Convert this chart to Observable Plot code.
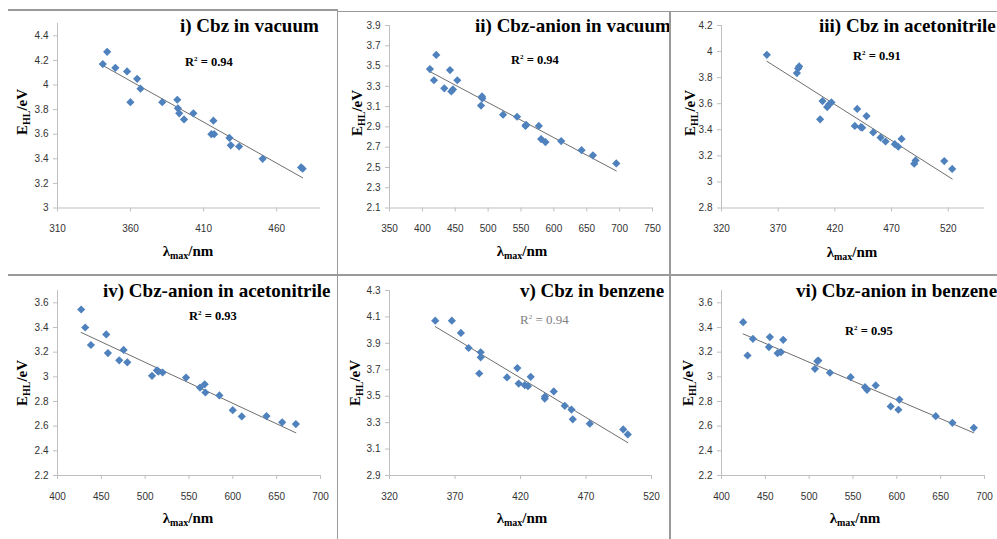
<!DOCTYPE html>
<html><head><meta charset="utf-8">
<script src="https://cdn.jsdelivr.net/npm/d3@7"></script>
<script src="https://cdn.jsdelivr.net/npm/@observablehq/plot@0.6"></script>
<style>
body{margin:0;background:#fff;}
#fig{position:relative;width:997px;height:539px;overflow:hidden;font-family:"Liberation Serif","Times New Roman",serif;color:#000;}
.panel{position:absolute;}
.title{position:absolute;font-weight:bold;font-size:19px;white-space:nowrap;line-height:1;}
.r2{position:absolute;font-weight:bold;font-size:12.5px;white-space:nowrap;line-height:1;}
.r2.light{font-weight:normal;color:#7f7f7f;font-size:13px;}
.xl,.yl{position:absolute;font-weight:bold;font-size:15px;white-space:nowrap;line-height:1;}
.yl{transform:translate(-50%,-50%) rotate(-90deg);}
.xl{transform:translate(-50%,-50%);}
.sep{position:absolute;background:#9a9a9a;}
.xl sub,.yl sub{font-size:10px;vertical-align:-3px;}
.r2 sup{font-size:7px;vertical-align:5px;}
</style>
</head><body>
<div id="fig"></div>
<script>
// ---------- data ----------
const titles = ["i) Cbz in vacuum", "ii) Cbz-anion in vacuum", "iii) Cbz in acetonitrile",
                "iv) Cbz-anion in acetonitrile", "v) Cbz in benzene", "vi) Cbz-anion in benzene"];
const r2Values = ["0.94", "0.94", "0.91", "0.93", "0.94", "0.95"];

const p1X = [341,344,349.6,357.6,359.9,364.5,366.8,381.7,392,392.4,393.3,396.6,403,415.3,416.7,417.2,427.7,428.6,434.3,450.4,476.7,477.8];
const p1Y = [4.17,4.27,4.14,4.11,3.86,4.05,3.97,3.86,3.88,3.81,3.77,3.72,3.77,3.60,3.71,3.60,3.57,3.51,3.50,3.40,3.33,3.32];

const p2X = [411.5,417.6,421.1,433.3,442,444,446.5,453.1,489.2,490.7,491.2,522.7,544,556.8,557.8,577.1,580.6,587.2,611.1,642.1,659.4,694.9];
const p2Y = [3.47,3.36,3.61,3.28,3.46,3.25,3.27,3.36,3.11,3.20,3.18,3.02,3.00,2.91,2.92,2.91,2.78,2.75,2.76,2.67,2.62,2.54];

const p3X = [360,386.5,387.6,388.5,407,409.1,413.2,415,417,437.6,439.7,442.9,444.1,447.9,453.8,460.3,464.7,472.9,475.9,478.8,490,491.2,516.5,523.5];
const p3Y = [3.975,3.835,3.87,3.886,3.48,3.62,3.574,3.595,3.61,3.43,3.56,3.42,3.416,3.505,3.38,3.34,3.31,3.29,3.27,3.33,3.14,3.165,3.16,3.10];

const p4X = [427,431.6,438.1,455.6,457.5,470.4,475.4,479.6,507.8,513.5,515,519.9,546.6,562.6,567.9,568.7,584.7,599.9,610.2,638.4,656.3,671.9];
const p4Y = [3.546,3.40,3.258,3.344,3.193,3.134,3.218,3.118,3.008,3.053,3.043,3.035,2.994,2.913,2.94,2.873,2.849,2.73,2.679,2.682,2.631,2.617];

const p5X = [354.9,367.6,374.5,380.4,388.5,389.6,389.6,409.7,417.6,418.6,423.2,425.7,427.8,438.5,438.7,445.4,453.8,458.9,459.9,472.9,498.4,501.9];
const p5Y = [4.072,4.072,3.979,3.865,3.672,3.832,3.794,3.642,3.713,3.596,3.584,3.576,3.647,3.482,3.497,3.536,3.427,3.399,3.325,3.292,3.249,3.211];

const p6X = [424.7,429.7,435.8,454.1,455.2,464,467.8,470.4,506.6,509.3,510.4,523.7,547.3,563.7,566,575.9,593,601.8,602.9,644.4,663.4,687.8];
const p6Y = [3.443,3.173,3.308,3.241,3.322,3.192,3.2,3.3,3.065,3.127,3.132,3.033,2.997,2.916,2.895,2.93,2.76,2.733,2.816,2.681,2.627,2.587];

const xDomains = [[310,490],[350,750],[320,552],[400,700],[320,520],[400,700]];
const xTicks = [[310,360,410,460],[350,400,450,500,550,600,650,700,750],[320,370,420,470,520],
                [400,450,500,550,600,650,700],[320,370,420,470,520],[400,450,500,550,600,650,700]];
const yDomains = [[3,4.5],[2.1,3.9],[2.8,4.2],[2.2,3.7],[2.9,4.3],[2.2,3.7]];
const yTicks = [[3,3.2,3.4,3.6,3.8,4,4.2,4.4],[2.1,2.3,2.5,2.7,2.9,3.1,3.3,3.5,3.7,3.9],
                [2.8,3,3.2,3.4,3.6,3.8,4,4.2],[2.2,2.4,2.6,2.8,3,3.2,3.4,3.6],
                [2.9,3.1,3.3,3.5,3.7,3.9,4.1,4.3],[2.2,2.4,2.6,2.8,3,3.2,3.4,3.6]];
const seriesX = [p1X,p2X,p3X,p4X,p5X,p6X];
const seriesY = [p1Y,p2Y,p3Y,p4Y,p5Y,p6Y];

// ---------- layout ----------
const layout = [
  {left:0,   top:0,   width:335, height:270, ml:57, mr:15, mt:23, mb:62.5, tx:180, ty:16, rx:185, ry:56, ylx:23, yly:112, xlx:188, xly:252},
  {left:335, top:0,   width:335, height:270, ml:54, mr:18, mt:25, mb:62.5, tx:475, ty:16, rx:511, ry:54, ylx:358, yly:113, xlx:522, xly:252},
  {left:668, top:0,   width:329, height:270, ml:53, mr:13, mt:25, mb:62.5, tx:819, ty:16, rx:853, ry:50, ylx:691, yly:113, xlx:852, xly:253},
  {left:0,   top:270, width:335, height:269, ml:57, mr:15, mt:20, mb:64,   tx:103, ty:281, rx:189, ry:310, ylx:23, yly:383, xlx:188, xly:519},
  {left:335, top:270, width:335, height:269, ml:54, mr:19, mt:20, mb:64,   tx:520, ty:281, rx:520, ry:313, ylx:356, yly:383, xlx:522, xly:519},
  {left:668, top:270, width:329, height:269, ml:53, mr:13, mt:20, mb:64,   tx:796, ty:281, rx:845, ry:325, ylx:689, yly:383, xlx:855, xly:519}
];

const fig = document.getElementById("fig");
const fmt = d => String(d);

layout.forEach((L, i) => {
  const data = seriesX[i].map((x, j) => ({x, y: seriesY[i][j]}));
  const chart = Plot.plot({
    width: L.width, height: L.height,
    marginLeft: L.ml, marginRight: L.mr, marginTop: L.mt, marginBottom: L.mb,
    style: {fontFamily: "'Liberation Sans', Arial, sans-serif", fontSize: "10px", background: "transparent", overflow: "visible"},
    x: {domain: xDomains[i]},
    y: {domain: yDomains[i]},
    marks: [
      Plot.ruleY([yDomains[i][0]], {stroke: "#bfbfbf"}),
      Plot.ruleX([xDomains[i][0]], {stroke: "#bfbfbf"}),
      Plot.axisX(xTicks[i], {tickSize: 4, tickPadding: 13, stroke: "#bfbfbf", fill: "#333", label: null, tickFormat: fmt}),
      Plot.axisY(yTicks[i], {tickSize: 4, tickPadding: 5, stroke: "#bfbfbf", fill: "#333", label: null, tickFormat: fmt}),
      Plot.linearRegressionY(data, {x: "x", y: "y", ci: 0, stroke: "#6e6e6e", strokeWidth: 1}),
      Plot.dot(data, {x: "x", y: "y", symbol: "diamond2", r: 3.7, fill: "#4f81bd", stroke: null})
    ]
  });
  const wrap = document.createElement("div");
  wrap.className = "panel";
  wrap.style.left = L.left + "px";
  wrap.style.top = L.top + "px";
  wrap.appendChild(chart);
  fig.appendChild(wrap);

  const t = document.createElement("div");
  t.className = "title";
  t.style.left = L.tx + "px"; t.style.top = L.ty + "px";
  t.textContent = titles[i];
  fig.appendChild(t);

  const r = document.createElement("div");
  r.className = "r2" + (i === 4 ? " light" : "");
  r.style.left = L.rx + "px"; r.style.top = L.ry + "px";
  r.innerHTML = "R<sup>2</sup> = " + r2Values[i];
  fig.appendChild(r);

  const yl = document.createElement("div");
  yl.className = "yl";
  yl.style.left = L.ylx + "px"; yl.style.top = L.yly + "px";
  yl.innerHTML = "E<sub>HL</sub>/eV";
  fig.appendChild(yl);

  const xl = document.createElement("div");
  xl.className = "xl";
  xl.style.left = L.xlx + "px"; xl.style.top = L.xly + "px";
  xl.innerHTML = "λ<sub>max</sub>/nm";
  fig.appendChild(xl);
});

// separator lines of the figure grid
[
  {l:8,   t:9,   w:329, h:1.5},
  {l:337, t:10.5,w:660, h:1.5},
  {l:8,   t:274, w:989, h:1.5},
  {l:336.5, t:9, w:1.5, h:530},
  {l:669, t:10.5,w:1.5, h:529}
].forEach(s => {
  const d = document.createElement("div");
  d.className = "sep";
  d.style.left = s.l + "px"; d.style.top = s.t + "px";
  d.style.width = s.w + "px"; d.style.height = s.h + "px";
  fig.appendChild(d);
});
</script>
</body></html>
